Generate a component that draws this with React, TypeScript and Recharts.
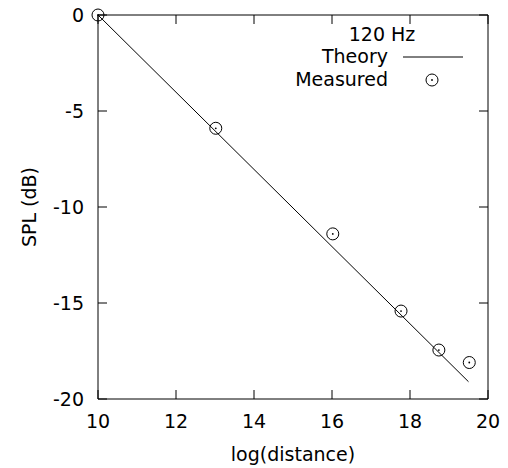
import React from 'react';
import { ComposedChart, Line, Scatter, XAxis, YAxis, Legend } from 'recharts';

const theoryX = [10, 19.5];
const theoryY = [0, -19.1];
const measuredX = [10, 13.02, 16.02, 17.77, 18.74, 19.52];
const measuredY = [0, -5.9, -11.4, -15.42, -17.45, -18.1];
const xTicks = [10, 12, 14, 16, 18, 20];
const yTicks = [0, -5, -10, -15, -20];
const legendTitle = '120 Hz';
const theoryName = 'Theory';
const measuredName = 'Measured';
const xLabel = 'log(distance)';
const yLabel = 'SPL (dB)';

const theory = theoryX.map((x, i) => ({ x, y: theoryY[i] }));
const measured = measuredX.map((x, i) => ({ x, y: measuredY[i] }));

const FONT = 'DejaVu Sans';
const FS = 19;
const TL = 9;

const BottomTick = (p: any) => (
  <g>
    <line x1={p.x} y1={p.y} x2={p.x} y2={p.y - TL} stroke="#000" strokeWidth={1} />
    <text x={p.x} y={p.y + 29} textAnchor="middle" fontFamily={FONT} fontSize={FS} fill="#000">
      {p.payload.value}
    </text>
  </g>
);
const TopTick = (p: any) => (
  <line x1={p.x} y1={p.y} x2={p.x} y2={p.y + TL} stroke="#000" strokeWidth={1} />
);
const LeftTick = (p: any) => (
  <g>
    <line x1={p.x} y1={p.y} x2={p.x + TL} y2={p.y} stroke="#000" strokeWidth={1} />
    <text x={p.x - 14} y={p.y + 7} textAnchor="end" fontFamily={FONT} fontSize={FS} fill="#000">
      {p.payload.value}
    </text>
  </g>
);
const RightTick = (p: any) => (
  <line x1={p.x} y1={p.y} x2={p.x - TL} y2={p.y} stroke="#000" strokeWidth={1} />
);

const MeasuredShape = (p: any) => (
  <g>
    <circle cx={p.cx} cy={p.cy} r={6} fill="none" stroke="#000" strokeWidth={1} />
    <circle cx={p.cx} cy={p.cy} r={0.9} fill="#000" />
  </g>
);

const LegendContent = () => (
  <svg width={508} height={100} style={{ display: 'block' }}>
    <text x={382} y={41} textAnchor="middle" fontFamily={FONT} fontSize={FS} fill="#000">{legendTitle}</text>
    <text x={388} y={63} textAnchor="end" fontFamily={FONT} fontSize={FS} fill="#000">{theoryName}</text>
    <line x1={403} y1={57} x2={463} y2={57} stroke="#000" strokeWidth={1} />
    <text x={388} y={86} textAnchor="end" fontFamily={FONT} fontSize={FS} fill="#000">{measuredName}</text>
    <circle cx={432} cy={80} r={6} fill="none" stroke="#000" strokeWidth={1} />
    <circle cx={432} cy={80} r={0.9} fill="#000" />
  </svg>
);

export default function App() {
  return (
    <div style={{ position: 'absolute', left: 0, top: 0, width: 508, height: 468, background: '#fff' }}>
      <ComposedChart
        width={508}
        height={468}
        margin={{ top: 14, right: 19, bottom: 0, left: 0 }}
        style={{ fontFamily: FONT }}
      >
        <XAxis
          xAxisId="b"
          dataKey="x"
          type="number"
          domain={[10, 20]}
          ticks={xTicks}
          orientation="bottom"
          height={69}
          tickSize={0}
          tickMargin={0}
          tickLine={false}
          axisLine={{ stroke: '#000', strokeWidth: 1 }}
          tick={<BottomTick />}
          interval={0}
          label={{
            value: xLabel,
            content: () => (
              <text x={293} y={461} textAnchor="middle" fontFamily={FONT} fontSize={FS} fill="#000">{xLabel}</text>
            ),
          }}
        />
        <XAxis
          xAxisId="t"
          dataKey="x"
          type="number"
          domain={[10, 20]}
          ticks={xTicks}
          orientation="top"
          height={1}
          tickSize={0}
          tickMargin={0}
          tickLine={false}
          axisLine={{ stroke: '#000', strokeWidth: 1 }}
          tick={<TopTick />}
          interval={0}
        />
        <YAxis
          yAxisId="l"
          type="number"
          domain={[-20, 0]}
          ticks={yTicks}
          orientation="left"
          width={98}
          tickSize={0}
          tickMargin={0}
          tickLine={false}
          axisLine={{ stroke: '#000', strokeWidth: 1 }}
          tick={<LeftTick />}
          interval={0}
          label={{
            value: yLabel,
            content: () => (
              <text
                x={36}
                y={207}
                textAnchor="middle"
                transform="rotate(-90 36 207)"
                fontFamily={FONT}
                fontSize={FS}
                fill="#000"
              >
                {yLabel}
              </text>
            ),
          }}
        />
        <YAxis
          yAxisId="r"
          type="number"
          domain={[-20, 0]}
          ticks={yTicks}
          orientation="right"
          width={1}
          tickSize={0}
          tickMargin={0}
          tickLine={false}
          axisLine={{ stroke: '#000', strokeWidth: 1 }}
          tick={<RightTick />}
          interval={0}
        />
        <Legend
          layout="vertical"
          align="center"
          verticalAlign="middle"
          content={<LegendContent />}
          wrapperStyle={{ position: 'absolute', left: 0, top: 0, width: 508, height: 100 }}
        />
        <Line
          xAxisId="b"
          yAxisId="l"
          data={theory}
          dataKey="y"
          stroke="#000"
          strokeWidth={1}
          dot={false}
          activeDot={false}
          isAnimationActive={false}
        />
        <Scatter
          xAxisId="b"
          yAxisId="l"
          data={measured}
          dataKey="y"
          shape={<MeasuredShape />}
          isAnimationActive={false}
        />
        <Scatter
          xAxisId="t"
          yAxisId="r"
          data={measured}
          dataKey="y"
          shape={() => null}
          isAnimationActive={false}
          legendType="none"
        />
      </ComposedChart>
    </div>
  );
}
